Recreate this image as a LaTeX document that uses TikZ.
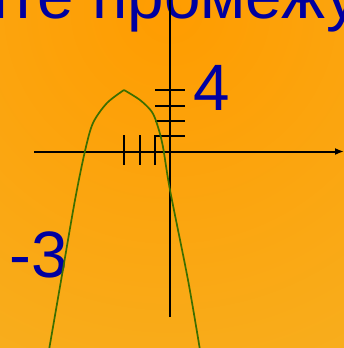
\documentclass[tikz,border=0pt]{standalone}
\usepackage{fontspec}
\setmainfont{Liberation Sans}
\usetikzlibrary{arrows.meta}
\definecolor{txtblue}{RGB}{0,0,160}
\definecolor{curvegreen}{RGB}{60,110,0}
\definecolor{bgin}{RGB}{255,156,0}
\definecolor{bgout}{RGB}{240,192,60}
\begin{document}
\begin{tikzpicture}[x=1pt,y=-1pt,
 axis/.style={black,line width=2pt},
 tickmark/.style={black,line width=2pt},
 graph/.style={curvegreen,line width=1.7pt},
 lbl/.style={txtblue,inner sep=0pt,font=\fontsize{65.6}{70}\selectfont}]
\useasboundingbox (0,0) rectangle (344,348);
\clip (0,0) rectangle (344,348);
\shade[inner color=bgin,outer color=bgout] (170,10) circle (800pt);
% title text (cut by the frame)
\node[lbl,anchor=base west] (title) at (92,18.5) {\llap{Укажите }промежутки};
% labels
\node[lbl,anchor=base west] (four) at (193,110) {4};
\node[lbl,anchor=base west] (mthree) at (9,277) {-3};
% axes
\coordinate (xa) at (34,151.5);
\coordinate (xb) at (344,151.5);
\draw[axis,-{Latex[length=9pt,width=7pt]}] (xa) -- (xb);
\coordinate (ya) at (170,317);
\coordinate (yb) at (170,-2);
\draw[axis] (ya) -- (yb);
% ticks
\foreach \yy in {90,105.7,120.7,135.7}
  \draw[tickmark] (155,\yy) -- (185,\yy);
\foreach \xx in {124.3,140,155}
  \draw[tickmark] (\xx,135) -- (\xx,165);
% graph
\draw[graph] plot[smooth] coordinates {(49,350) (62,275) (75,200) (85,151) (93,123) (107,103) (124,90)};
\draw[graph] plot[smooth] coordinates {(124,90) (140,100) (152,112) (158,127) (163,147) (170,190) (188,280) (200,350)};
\end{tikzpicture}
\end{document}
